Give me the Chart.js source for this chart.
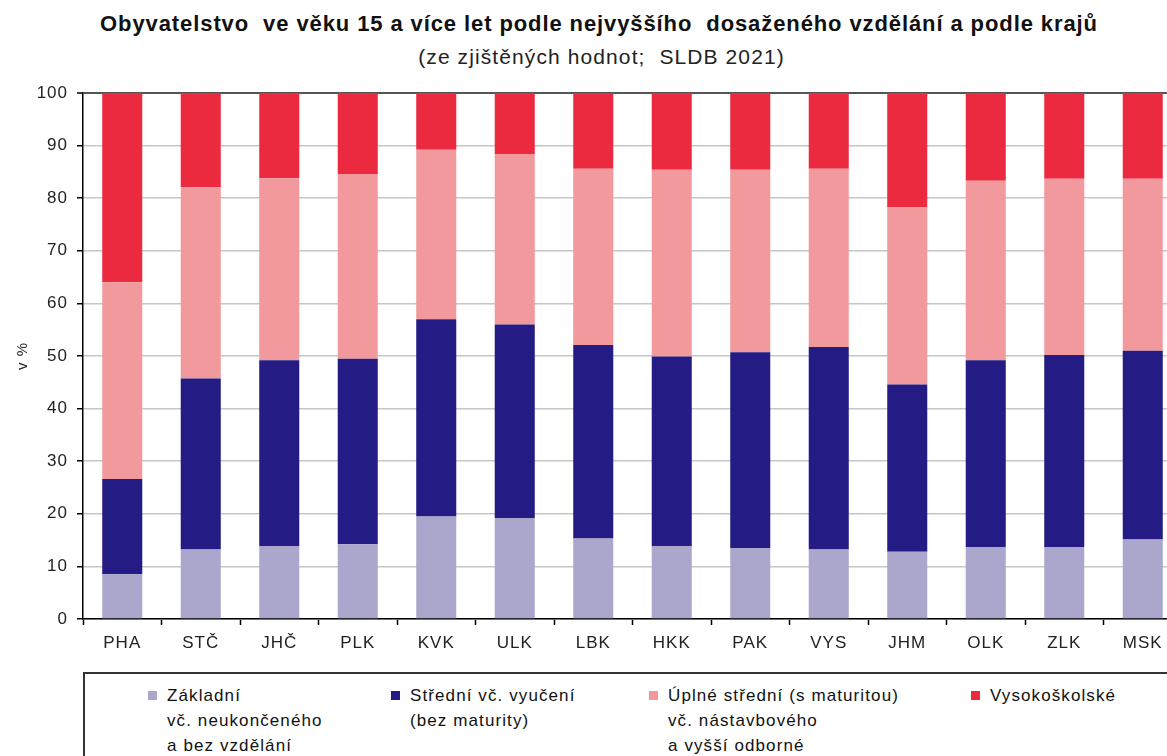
<!DOCTYPE html>
<html>
<head>
<meta charset="utf-8">
<script src="https://cdn.jsdelivr.net/npm/chart.js@4.4.1/dist/chart.umd.min.js"></script>
<style>
    body {
        margin: 0;
        width: 1167px;
        height: 756px;
        overflow: hidden;
        background: #fff;
        position: relative;
        font-family: "Liberation Sans", Arial, sans-serif;
        color: #111;
    }
    #title {
        position: absolute;
        left: 0;
        width: 1198px;
        top: 11px;
        text-align: center;
        font-size: 22px;
        font-weight: bold;
        letter-spacing: 0.9px;
        white-space: pre;
    }
    #subtitle {
        position: absolute;
        left: 0;
        width: 1203px;
        top: 45px;
        text-align: center;
        font-size: 21px;
        letter-spacing: 1.1px;
        white-space: pre;
        color: #222;
    }
    #chartBox {
        position: absolute;
        left: 0;
        top: 0;
    }
    #legendBox {
        position: absolute;
        left: 83px;
        top: 672px;
        width: 1200px;
        height: 120px;
        border: 2px solid #333;
        box-sizing: border-box;
    }
    .legendItem {
        position: absolute;
        top: 683px;
        font-size: 17px;
        line-height: 25px;
        letter-spacing: 1.1px;
        white-space: pre;
    }
    .legendItem .marker {
        position: absolute;
        left: -19px;
        top: 8px;
        width: 9px;
        height: 9px;
    }
</style>
</head>
<body>
<div id="title">Obyvatelstvo  ve věku 15 a více let podle nejvyššího  dosaženého vzdělání a podle krajů</div>
<div id="subtitle">(ze zjištěných hodnot;  SLDB 2021)</div>
<div id="chartBox"><canvas id="eduChart" width="1185" height="662"></canvas></div>
<div id="legendBox"></div>
<div id="legend"></div>
<script>
    const regions = ['PHA', 'STČ', 'JHČ', 'PLK', 'KVK', 'ULK', 'LBK', 'HKK', 'PAK', 'VYS', 'JHM', 'OLK', 'ZLK', 'MSK'];

    // podíly v %
    const zakladni = [8.5, 13.2, 13.9, 14.2, 19.5, 19.2, 15.3, 13.9, 13.5, 13.2, 12.8, 13.7, 13.7, 15.1];
    const stredni = [18.1, 32.5, 35.3, 35.3, 37.5, 36.8, 36.8, 36.0, 37.2, 38.5, 31.8, 35.5, 36.5, 35.9];
    const uplneStredni = [37.4, 36.4, 34.6, 35.1, 32.2, 32.4, 33.5, 35.5, 34.7, 33.9, 33.7, 34.1, 33.5, 32.7];
    const vysokoskolske = [36.0, 17.9, 16.2, 15.4, 10.8, 11.6, 14.4, 14.6, 14.6, 14.4, 21.7, 16.7, 16.3, 16.3];

    const legendLines = [
        ['Základní', 'vč. neukončeného', 'a bez vzdělání'],
        ['Střední vč. vyučení', '(bez maturity)'],
        ['Úplné střední (s maturitou)', 'vč. nástavbového', 'a vyšší odborné'],
        ['Vysokoškolské']
    ];
    const colors = ['#aba7cc', '#241c84', '#f2999d', '#eb2a40'];
    const legendLeft = [167, 410, 668, 990];

    const font = '"Liberation Sans", Arial, sans-serif';

    const datasets = [zakladni, stredni, uplneStredni, vysokoskolske].map((values, i) => ({
        label: legendLines[i].join(' '),
        data: values,
        backgroundColor: colors[i],
        borderWidth: 0,
        barPercentage: 0.51,
        categoryPercentage: 1
    }));

    const spacingPlugin = {
        id: 'spacing',
        beforeDraw(chart) {
            chart.ctx.letterSpacing = '1px';
        }
    };

    const ctx = document.getElementById('eduChart').getContext('2d');
    const chart = new Chart(ctx, {
        type: 'bar',
        data: {
            labels: regions,
            datasets: datasets
        },
        options: {
            responsive: false,
            animation: false,
            layout: {
                padding: { top: 93, right: 3, bottom: 0, left: 0 }
            },
            plugins: {
                legend: { display: false },
                title: { display: false },
                tooltip: { enabled: false }
            },
            scales: {
                x: {
                    stacked: true,
                    grid: {
                        offset: true,
                        drawOnChartArea: false,
                        tickLength: 6,
                        tickColor: '#000',
                        tickWidth: 1.5
                    },
                    border: { color: '#000', width: 1.5 },
                    ticks: {
                        color: '#222',
                        padding: 8,
                        maxRotation: 0,
                        font: { family: font, size: 17 }
                    },
                    afterFit(scale) {
                        scale.height = 43;
                    }
                },
                y: {
                    stacked: true,
                    min: 0,
                    max: 100,
                    grid: {
                        color: ctx => ctx.tick && ctx.tick.value === 100 ? '#555' : '#c6c6c6',
                        lineWidth: ctx => ctx.tick && ctx.tick.value === 100 ? 2 : 1.5,
                        tickLength: 6,
                        tickColor: '#000',
                        tickWidth: 1.5
                    },
                    border: { color: '#000', width: 1.5 },
                    ticks: {
                        stepSize: 10,
                        color: '#222',
                        padding: 9,
                        font: { family: font, size: 17 }
                    },
                    title: {
                        display: true,
                        text: 'v %',
                        color: '#222',
                        padding: { top: 14, bottom: 0 },
                        font: { family: font, size: 15 }
                    },
                    afterFit(scale) {
                        scale.width = 83;
                    }
                }
            }
        },
        plugins: [spacingPlugin]
    });

    // legenda s víceřádkovými popisky
    const legend = document.getElementById('legend');
    chart.data.datasets.forEach((ds, i) => {
        const item = document.createElement('div');
        item.className = 'legendItem';
        item.style.left = legendLeft[i] + 'px';
        item.textContent = legendLines[i].join('\n');
        const marker = document.createElement('span');
        marker.className = 'marker';
        marker.style.background = ds.backgroundColor;
        item.appendChild(marker);
        legend.appendChild(item);
    });
</script>
</body>
</html>
